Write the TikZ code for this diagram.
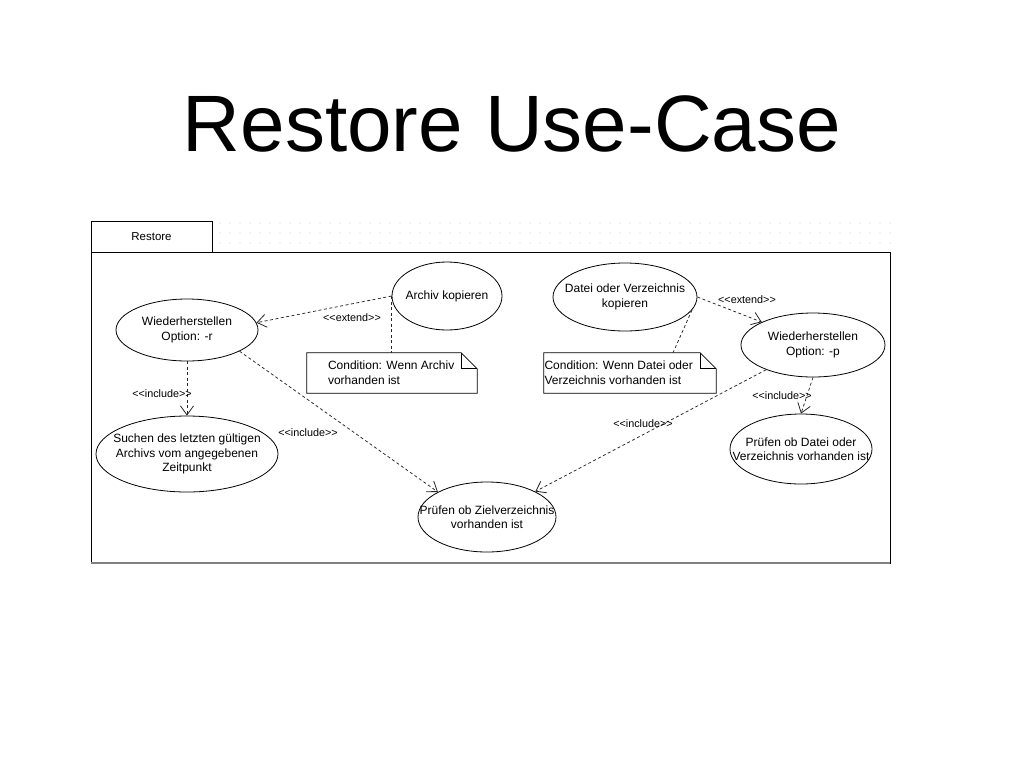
\documentclass[tikz,border=0pt]{standalone}
\usepackage{fontspec}
\setmainfont{Liberation Sans}[Ligatures=TeXOff]
\usetikzlibrary{shapes.geometric,arrows.meta,calc}
\begin{document}
\begin{tikzpicture}[x=1pt,y=-1pt,
  uc/.style={ellipse, draw, line width=0.8pt, inner sep=0pt},
  uctext/.style={font=\fontsize{12}{14.5}\selectfont, align=center, inner sep=0pt},
  lbl/.style={font=\fontsize{10.8}{12}\selectfont, inner sep=0pt},
  notetxt/.style={font=\fontsize{12}{15}\selectfont, inner sep=0pt, align=left},
  dep/.style={dash pattern=on 3pt off 2.5pt, line width=0.75pt, draw=black!85, -{Straight Barb[length=9pt,width=13pt,line width=0.8pt]}},
  link/.style={dash pattern=on 3pt off 2.5pt, line width=0.75pt, draw=black!85},
  notebox/.style={minimum height=40pt, inner sep=0pt}
]
\useasboundingbox (0,0) rectangle (1028,772);
\fill[white] (0,0) rectangle (1028,772);

% title
\node[font=\fontsize{80}{90}\selectfont, anchor=base, inner sep=0pt] (title) at (512,151) {Restore Use-Case};

% dotted grid
\foreach \y in {223,233,243}
  \foreach \x in {220,230,...,890}
    \fill[black!20] (\x,\y) circle (0.55pt);

% package
\node[draw, line width=0.8pt, minimum width=121pt, minimum height=31pt, inner sep=0pt, font=\fontsize{11.5}{13}\selectfont] (tab) at (151.5,236.5) {Restore};
\node[draw, line width=0.8pt, minimum width=799pt, minimum height=311pt, inner sep=0pt] (pkg) at (490.5,407.5) {};
\draw[black!50, line width=2pt] (pkg.south west) -- (pkg.south east);

% use cases
\node[uc, minimum width=142pt, minimum height=62pt, label={[uctext]center:{Wiederherstellen\\Option: -r}}] (wr) at (187,330) {};
\node[uc, minimum width=110pt, minimum height=68pt, label={[uctext]center:{Archiv kopieren}}] (ak) at (447,296) {};
\node[uc, minimum width=144pt, minimum height=68pt, label={[uctext]center:{Datei oder Verzeichnis\\kopieren}}] (dk) at (625,297) {};
\node[uc, minimum width=144pt, minimum height=64pt, label={[uctext]center:{Wiederherstellen\\Option: -p}}] (wp) at (813,345) {};
\node[uc, minimum width=182pt, minimum height=76pt, label={[uctext]center:{Suchen des letzten gültigen\\Archivs vom angegebenen\\Zeitpunkt}}] (sg) at (187,454) {};
\node[uc, minimum width=138pt, minimum height=70pt, label={[uctext]center:{Prüfen ob Zielverzeichnis\\vorhanden ist}}] (pz) at (487,517) {};
\node[uc, minimum width=142pt, minimum height=70pt, label={[uctext]center:{Prüfen ob Datei oder\\Verzeichnis vorhanden ist}}] (pd) at (801,449) {};

% notes
\node[notebox, minimum width=170pt] (n1) at (392,373) {};
\draw[line width=0.8pt] (n1.north west) -- ([xshift=-16pt]n1.north east) -- ([yshift=-16pt]n1.north east) -- (n1.south east) -- (n1.south west) -- cycle;
\draw[line width=0.8pt] ([xshift=-16pt]n1.north east) |- ([yshift=-16pt]n1.north east);
\node[notetxt, anchor=west] (n1t) at ([xshift=21pt]n1.west) {Condition: Wenn Archiv\\vorhanden ist};

\node[notebox, minimum width=172pt] (n2) at (630,373) {};
\draw[line width=0.8pt] (n2.north west) -- ([xshift=-16pt]n2.north east) -- ([yshift=-16pt]n2.north east) -- (n2.south east) -- (n2.south west) -- cycle;
\draw[line width=0.8pt] ([xshift=-16pt]n2.north east) |- ([yshift=-16pt]n2.north east);
\node[notetxt, anchor=west] (n2t) at ([xshift=0.5pt]n2.west) {Condition: Wenn Datei oder\\Verzeichnis vorhanden ist};

% connectors
\draw[dep] (ak.west) -- (wr.6);
\node[lbl] (e1) at (352,318) {<<extend>>};
\draw[link] (ak.west) -- (n1.north -| ak.west);

\draw[dep] (dk.east) -- (wp.north west);
\node[lbl] (e2) at (747,300) {<<extend>>};
\draw[link] (dk.-11) -- ([xshift=43pt]n2.north);

\draw[dep] (wr.south) -- (sg.north);
\node[lbl] (i1) at (162,394) {<<include>>};

\draw[dep] (wr.-22) -- (pz.153);
\node[lbl] (i2) at (308,433) {<<include>>};

\draw[dep] (wp) -- (pz);
\node[lbl] (i3) at (643,424) {<<include>>};

\draw[dep] (wp.south) -- (pd.north);
\node[lbl] (i4) at (782,396) {<<include>>};
\end{tikzpicture}
\end{document}
